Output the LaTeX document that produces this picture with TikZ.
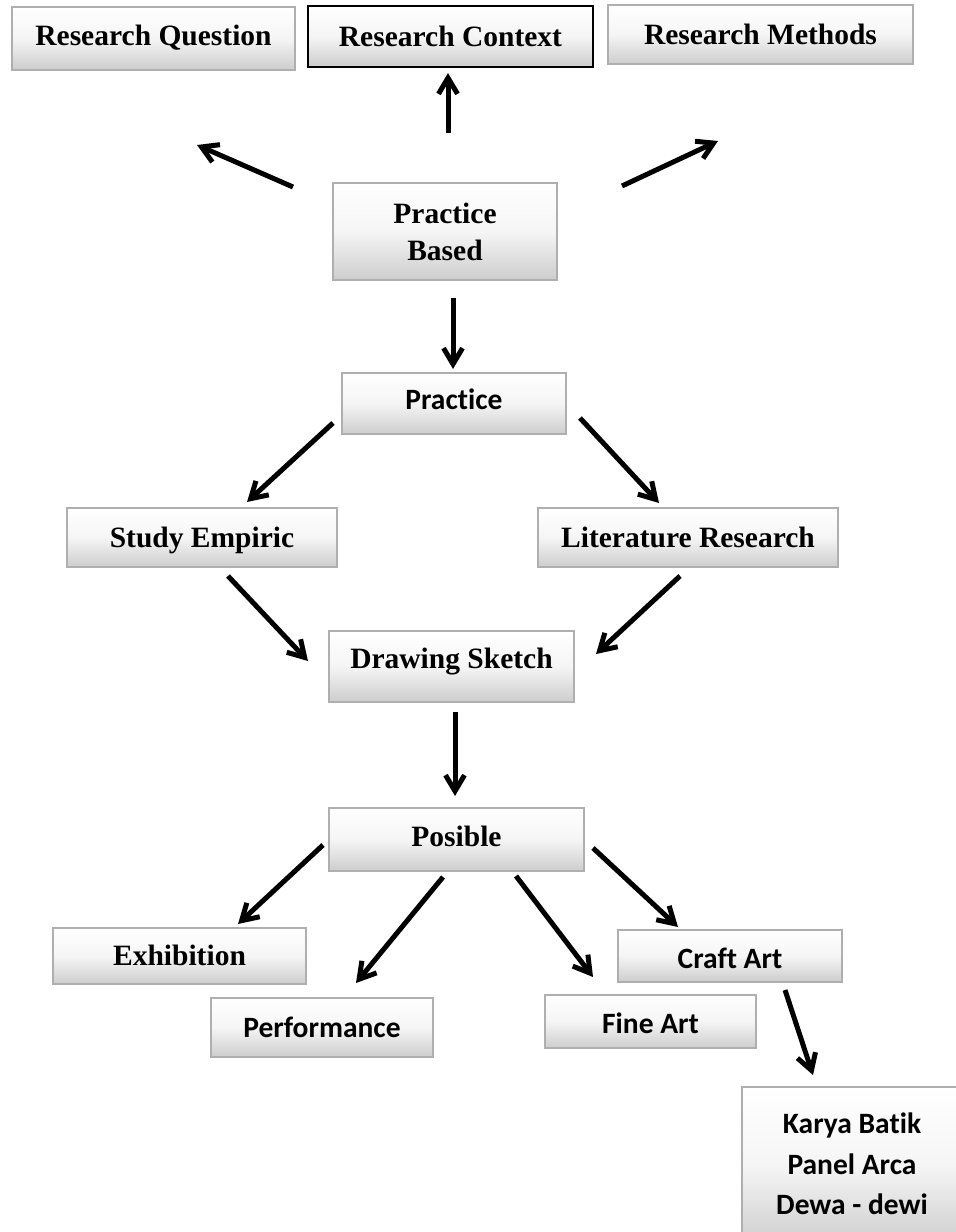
\documentclass[tikz,border=0pt]{standalone}
\usepackage{fontspec}
\setmainfont{Liberation Serif}
\newfontfamily\calibfont[Ligatures={NoCommon}]{Carlito}
\usetikzlibrary{arrows.meta}
\definecolor{boxgray}{RGB}{175,175,175}
\definecolor{boxbot}{RGB}{205,205,205}
\definecolor{boxmid}{RGB}{245,245,245}
\tikzset{
  box/.style={rectangle, draw=boxgray, line width=1.6pt, inner sep=0pt,
    top color=white, bottom color=boxbot, middle color=boxmid,
    align=center, font=\fontsize{29.5pt}{37pt}\selectfont\bfseries},
  calbox/.style={box, font=\fontsize{29.5pt}{40.5pt}\selectfont\calibfont\bfseries},
  darkbox/.style={box, draw=black, line width=2.6pt},
  oneline/.style={text height=26pt, text depth=6.5pt},
  flow/.style={line width=5pt, -{Straight Barb[length=16pt,width=19pt]}},
}
\begin{document}
\begin{tikzpicture}[x=1pt,y=-1pt]
\useasboundingbox (0,0) rectangle (956,1232);
\clip (0,0) rectangle (956,1232);
\fill[white] (0,0) rectangle (956,1232);
% boxes
\node[box, oneline, minimum width=283pt, minimum height=63pt] (rq) at (153.5,38.5) {\raisebox{2.5pt}{Research Question}};
\node[darkbox, oneline, minimum width=285pt, minimum height=61pt] (rc) at (450.5,36.5) {Research Context};
\node[box, oneline, minimum width=305pt, minimum height=59pt] (rm) at (760.5,34.5) {Research Methods};
\node[box, minimum width=224pt, minimum height=97pt] (pb) at (445,231.5) {Practice\\Based};
\node[calbox, oneline, minimum width=224pt, minimum height=61pt] (pr) at (454,403.5) {\raisebox{4pt}{Practice}};
\node[box, oneline, minimum width=270pt, minimum height=59pt] (se) at (202,537.5) {Study Empiric};
\node[box, oneline, minimum width=300pt, minimum height=59pt] (lr) at (688,537.5) {Literature Research};
\node[box, oneline, minimum width=245pt, minimum height=71pt] (ds) at (451.5,666.5) {\raisebox{7.5pt}{Drawing Sketch}};
\node[box, oneline, minimum width=255pt, minimum height=63pt] (po) at (456.5,839.5) {\raisebox{3pt}{Posible}};
\node[box, oneline, minimum width=253pt, minimum height=56pt] (ex) at (179.5,956) {Exhibition};
\node[calbox, oneline, minimum width=222pt, minimum height=59pt] (pf) at (322,1027.5) {Performance};
\node[calbox, oneline, minimum width=211pt, minimum height=53pt] (fa) at (650.5,1021.5) {\raisebox{-2.5pt}{Fine Art}};
\node[calbox, oneline, minimum width=224pt, minimum height=52pt] (ca) at (730,956) {\raisebox{-3pt}{Craft Art}};
\node[calbox, minimum width=220pt, minimum height=158pt] (kb) at (852,1166) {\raisebox{8pt}{\begin{tabular}{@{}c@{}}Karya Batik\\Panel Arca\\Dewa - dewi\end{tabular}}};
% arrow end points
\coordinate (a1s) at (293,187);  \coordinate (a1e) at (197,145);
\coordinate (a2s) at (448,133);  \coordinate (a2e) at (448,73);
\coordinate (a3s) at (622,186);  \coordinate (a3e) at (718,141);
\coordinate (a4s) at (453,298);  \coordinate (a4e) at (453,369);
\coordinate (a5s) at (333,423);  \coordinate (a5e) at (247,502);
\coordinate (a6s) at (580,418);  \coordinate (a6e) at (659,503);
\coordinate (a7s) at (228,576);  \coordinate (a7e) at (308,661);
\coordinate (a8s) at (680,576);  \coordinate (a8e) at (596,654);
\coordinate (a9s) at (455,712);  \coordinate (a9e) at (455,796);
\coordinate (b1s) at (323,845);  \coordinate (b1e) at (238,924);
\coordinate (b2s) at (443,877);  \coordinate (b2e) at (356,983);
\coordinate (b3s) at (516,876);  \coordinate (b3e) at (593,977);
\coordinate (b4s) at (593,848);  \coordinate (b4e) at (678,927);
\coordinate (b5s) at (785,990);  \coordinate (b5e) at (813,1075);
% arrows
\foreach \a in {a1,a2,a3,a4,a5,a6,a7,a8,a9,b1,b2,b3,b4,b5}
  \draw[flow] (\a s) -- (\a e);
\end{tikzpicture}
\end{document}
